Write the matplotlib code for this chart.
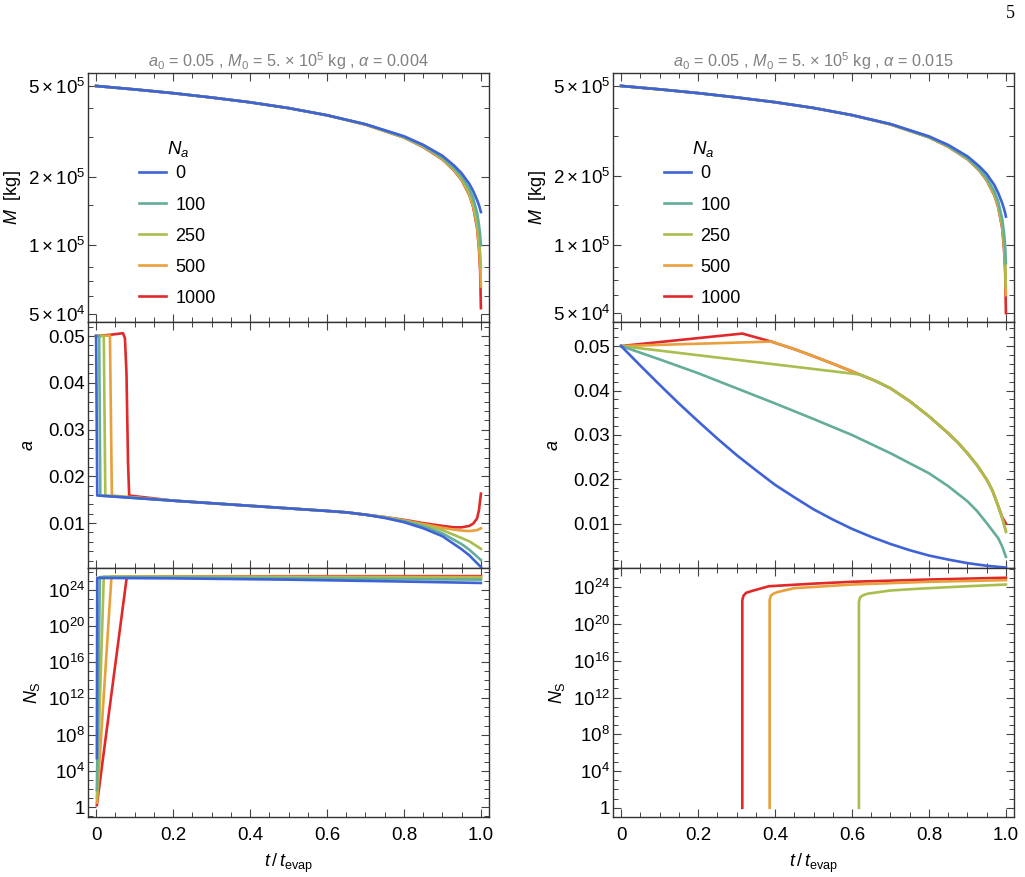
import numpy as np
import matplotlib
matplotlib.use('Agg')
from matplotlib import pyplot as plt
from matplotlib.ticker import FixedLocator, FixedFormatter, NullFormatter

plt.rcParams['font.family'] = ['Liberation Sans', 'DejaVu Sans']
plt.rcParams['mathtext.fontset'] = 'custom'
plt.rcParams['mathtext.rm'] = 'Liberation Sans'
plt.rcParams['mathtext.it'] = 'Liberation Sans:italic'
plt.rcParams['mathtext.bf'] = 'Liberation Sans:bold'

# 数据：N_a 的取值和颜色
labels = ['0', '100', '250', '500', '1000']
colors = ['#3F63D6', '#64AD9A', '#A8BE4E', '#E8A03C', '#E0292A']
titles = [r'$a_0$ = 0.05 , $M_0$ = 5. $\times$ 10$^5$ kg , $\alpha$ = 0.004',
          r'$a_0$ = 0.05 , $M_0$ = 5. $\times$ 10$^5$ kg , $\alpha$ = 0.015']

# >>> M(t) 上面两个图
t_M = [0, 0.1, 0.2, 0.3, 0.4, 0.5, 0.6, 0.7, 0.8, 0.85, 0.9, 0.93, 0.95, 0.97, 0.98, 0.99, 0.995, 0.998, 1.0]
M_left = [
    [5.0e5, 4.83e5, 4.65e5, 4.45e5, 4.24e5, 4.00e5, 3.72e5, 3.40e5, 3.01e5, 2.76e5, 2.47e5, 2.24e5, 2.07e5, 1.86e5, 1.73e5, 1.58e5, 1.50e5, 1.44e5, 1.40e5],
    [5.0e5, 4.83e5, 4.65e5, 4.45e5, 4.24e5, 4.00e5, 3.72e5, 3.395e5, 2.99e5, 2.74e5, 2.43e5, 2.19e5, 2.01e5, 1.77e5, 1.61e5, 1.39e5, 1.23e5, 1.11e5, 1.00e5],
    [5.0e5, 4.83e5, 4.65e5, 4.45e5, 4.24e5, 4.00e5, 3.72e5, 3.39e5, 2.98e5, 2.72e5, 2.40e5, 2.15e5, 1.96e5, 1.70e5, 1.52e5, 1.26e5, 1.06e5, 0.93e5, 0.80e5],
    [5.0e5, 4.83e5, 4.65e5, 4.45e5, 4.24e5, 4.00e5, 3.72e5, 3.385e5, 2.97e5, 2.71e5, 2.39e5, 2.14e5, 1.94e5, 1.67e5, 1.48e5, 1.21e5, 0.99e5, 0.83e5, 0.66e5],
    [5.0e5, 4.83e5, 4.65e5, 4.45e5, 4.24e5, 4.00e5, 3.72e5, 3.385e5, 2.97e5, 2.70e5, 2.38e5, 2.13e5, 1.93e5, 1.66e5, 1.47e5, 1.19e5, 0.96e5, 0.77e5, 0.53e5],
]
M_right = [
    [5.0e5, 4.83e5, 4.65e5, 4.45e5, 4.24e5, 4.00e5, 3.72e5, 3.40e5, 3.00e5, 2.75e5, 2.45e5, 2.22e5, 2.05e5, 1.83e5, 1.69e5, 1.53e5, 1.44e5, 1.38e5, 1.33e5],
    [5.0e5, 4.83e5, 4.65e5, 4.45e5, 4.24e5, 4.00e5, 3.72e5, 3.395e5, 2.98e5, 2.72e5, 2.41e5, 2.16e5, 1.97e5, 1.72e5, 1.55e5, 1.31e5, 1.13e5, 0.99e5, 0.83e5],
    [5.0e5, 4.83e5, 4.65e5, 4.45e5, 4.24e5, 4.00e5, 3.72e5, 3.39e5, 2.97e5, 2.71e5, 2.39e5, 2.14e5, 1.94e5, 1.67e5, 1.49e5, 1.23e5, 1.02e5, 0.85e5, 0.65e5],
    [5.0e5, 4.83e5, 4.65e5, 4.45e5, 4.24e5, 4.00e5, 3.72e5, 3.385e5, 2.97e5, 2.70e5, 2.38e5, 2.13e5, 1.93e5, 1.66e5, 1.47e5, 1.21e5, 0.99e5, 0.81e5, 0.60e5],
    [5.0e5, 4.83e5, 4.65e5, 4.45e5, 4.24e5, 4.00e5, 3.72e5, 3.385e5, 2.97e5, 2.70e5, 2.38e5, 2.13e5, 1.92e5, 1.65e5, 1.46e5, 1.19e5, 0.96e5, 0.76e5, 0.50e5],
]

# >>> a(t) 中间两个图
ta_left = [
    [0, 0.003, 0.2, 0.4, 0.6, 0.65, 0.7, 0.75, 0.8, 0.85, 0.9, 0.95, 0.97, 1.0],
    [0, 0.008, 0.011, 0.2, 0.4, 0.6, 0.65, 0.7, 0.75, 0.8, 0.85, 0.9, 0.95, 0.97, 1.0],
    [0, 0.020, 0.024, 0.2, 0.4, 0.6, 0.65, 0.7, 0.75, 0.8, 0.85, 0.9, 0.95, 0.97, 1.0],
    [0, 0.036, 0.041, 0.2, 0.4, 0.6, 0.65, 0.7, 0.75, 0.8, 0.85, 0.9, 0.93, 0.95, 0.97, 0.99, 1.0],
    [0, 0.04, 0.07, 0.075, 0.079, 0.083, 0.086, 0.2, 0.4, 0.6, 0.65, 0.7, 0.75, 0.8, 0.85, 0.9, 0.93, 0.95, 0.97, 0.98, 0.99, 0.995, 1.0],
]
a_left = [
    [0.050, 0.0159, 0.0148, 0.0137, 0.0126, 0.0123, 0.0118, 0.0111, 0.0102, 0.0089, 0.0072, 0.0044, 0.0031, 0.0006],
    [0.050, 0.0500, 0.0159, 0.0148, 0.0137, 0.0126, 0.0123, 0.0118, 0.0112, 0.0104, 0.0093, 0.0078, 0.0055, 0.0043, 0.0021],
    [0.050, 0.0500, 0.0159, 0.0148, 0.0137, 0.0126, 0.0123, 0.0118, 0.0112, 0.0105, 0.0096, 0.0085, 0.0068, 0.0061, 0.0045],
    [0.050, 0.0501, 0.0159, 0.0148, 0.0137, 0.0126, 0.0123, 0.0118, 0.0113, 0.0106, 0.0098, 0.0090, 0.0086, 0.0084, 0.0083, 0.0085, 0.0089],
    [0.050, 0.0503, 0.0506, 0.0495, 0.0420, 0.0230, 0.0159, 0.0148, 0.0137, 0.0126, 0.0123, 0.0118, 0.0113, 0.0107, 0.0100, 0.0094, 0.0091, 0.0091, 0.0094, 0.0099, 0.0110, 0.0128, 0.0163],
]
ta_right = [
    [0, 0.05, 0.1, 0.15, 0.2, 0.25, 0.3, 0.35, 0.4, 0.45, 0.5, 0.55, 0.6, 0.65, 0.7, 0.75, 0.8, 0.85, 0.9, 0.95, 1.0],
    [0, 0.1, 0.2, 0.3, 0.4, 0.5, 0.6, 0.7, 0.8, 0.85, 0.9, 0.925, 0.95, 0.98, 0.99, 1.0],
    [0, 0.62, 0.66, 0.7, 0.75, 0.8, 0.85, 0.875, 0.9, 0.925, 0.95, 0.965, 0.98, 0.99, 1.0],
    [0, 0.39, 0.45, 0.5, 0.56, 0.62, 0.66, 0.7, 0.75, 0.8, 0.85, 0.875, 0.9, 0.925, 0.95, 0.965, 0.98, 0.99, 1.0],
    [0, 0.315, 0.39, 0.45, 0.5, 0.56, 0.62, 0.66, 0.7, 0.75, 0.8, 0.85, 0.875, 0.9, 0.925, 0.95, 0.965, 0.98, 0.99, 1.0],
]
a_right = [
    [0.050, 0.0456, 0.0413, 0.0371, 0.0331, 0.0292, 0.0255, 0.0221, 0.0188, 0.0160, 0.0133, 0.0110, 0.0089, 0.0071, 0.0055, 0.0041, 0.0029, 0.0020, 0.0012, 0.0006, 0.0002],
    [0.050, 0.0470, 0.0439, 0.0405, 0.0371, 0.0336, 0.0300, 0.0259, 0.0214, 0.0185, 0.0151, 0.0129, 0.0102, 0.0068, 0.0050, 0.0026],
    [0.050, 0.0436, 0.0422, 0.0405, 0.0376, 0.0342, 0.0304, 0.0283, 0.0259, 0.0232, 0.0200, 0.0175, 0.0140, 0.0114, 0.0082],
    [0.050, 0.0510, 0.0493, 0.0477, 0.0457, 0.0436, 0.0422, 0.0405, 0.0376, 0.0342, 0.0304, 0.0283, 0.0259, 0.0232, 0.0200, 0.0175, 0.0140, 0.0114, 0.0085],
    [0.050, 0.0528, 0.0510, 0.0493, 0.0477, 0.0457, 0.0436, 0.0422, 0.0405, 0.0376, 0.0342, 0.0304, 0.0283, 0.0259, 0.0232, 0.0200, 0.0175, 0.0140, 0.0116, 0.0101],
]

# >>> N_S(t) 下面两个图
tN_left = [
    [0.002, 0.003, 0.2, 0.5, 0.8, 1.0],
    [0.002, 0.010, 1.0],
    [0.002, 0.020, 1.0],
    [0.002, 0.040, 1.0],
    [0.002, 0.080, 1.0],
]
N_left = [
    [2.5e5, 2.0e25, 1.8e25, 1.3e25, 8.0e24, 5.6e24],
    [80, 2.5e25, 1.3e25],
    [10, 2.8e25, 2.0e25],
    [3, 3.0e25, 2.5e25],
    [1.6, 3.0e25, 3.2e25],
]
tN_right = [
    [],
    [],
    [0.618, 0.618, 0.621, 0.628, 0.64, 0.7, 0.773, 0.9, 1.0],
    [0.386, 0.386, 0.389, 0.396, 0.406, 0.45, 0.6, 0.8, 1.0],
    [0.315, 0.315, 0.318, 0.325, 0.34, 0.384, 0.5, 0.6, 0.8, 1.0],
]
N_right = [
    [],
    [],
    [1, 2.5e22, 8e22, 1.3e23, 2e23, 4.5e23, 7e23, 1.3e24, 2e24],
    [1, 4e22, 1.2e23, 2e23, 3e23, 8e23, 2e24, 4e24, 6e24],
    [1, 4e22, 1.2e23, 2.5e23, 4e23, 1.3e24, 2.5e24, 4e24, 7e24, 1.1e25],
]

fig = plt.figure(figsize=(10.25, 8.77), dpi=100)
fig.text(1010 / 1025, 1 - 14 / 877, '5', family='Liberation Serif', fontsize=13,
         ha='center', va='center')

lefts = [88 / 1025, 613 / 1025]
w = 401 / 1025
ys = [73, 322, 568, 817]
lw = 1.9
frame_c = '#333333'
fs_tick = 13.5
fs_lab = 13


def style(ax):
    for s in ax.spines.values():
        s.set_color(frame_c)
        s.set_linewidth(1.0)
    ax.tick_params(which='both', direction='in', top=True, right=True,
                   colors='#444444', labelcolor='black', labelsize=fs_tick, pad=2)
    ax.tick_params(which='major', length=6, width=0.8)
    ax.tick_params(which='minor', length=3.5, width=0.7)
    ax.set_xlim(-0.021, 1.021)
    ax.xaxis.set_major_locator(FixedLocator([0, 0.2, 0.4, 0.6, 0.8, 1.0]))
    ax.xaxis.set_minor_locator(FixedLocator(np.arange(0, 1.001, 0.05)))


for c in range(2):
    axs = []
    for r in range(3):
        y0 = 1 - ys[r + 1] / 877
        h = (ys[r + 1] - ys[r]) / 877
        ax = fig.add_axes([lefts[c], y0, w, h])
        style(ax)
        axs.append(ax)
    axM, axa, axN = axs
    Ms = M_left if c == 0 else M_right
    tas = ta_left if c == 0 else ta_right
    As = a_left if c == 0 else a_right
    tNs = tN_left if c == 0 else tN_right
    Ns = N_left if c == 0 else N_right

    lines = []
    for k in range(4, -1, -1):
        ln, = axM.plot(t_M, Ms[k], c=colors[k], lw=lw, zorder=3 + (4 - k) * 0.1)
        lines.append(ln)
        axa.plot(tas[k], As[k], c=colors[k], lw=lw, zorder=3 + (4 - k) * 0.1)
        if len(tNs[k]) > 0:
            axN.plot(tNs[k], Ns[k], c=colors[k], lw=lw, zorder=3 + (4 - k) * 0.1)
    lines = lines[::-1]

    # M 图
    axM.set_yscale('log')
    if c == 0:
        axM.set_ylim(4.61e4, 5.7e5)
    else:
        axM.set_ylim(4.57e4, 5.7e5)
    axM.yaxis.set_major_locator(FixedLocator([5e4, 1e5, 2e5, 5e5]))
    axM.yaxis.set_major_formatter(FixedFormatter(
        [r'$5\times10^{4}$', r'$1\times10^{5}$', r'$2\times10^{5}$', r'$5\times10^{5}$']))
    axM.yaxis.set_minor_locator(FixedLocator([6e4, 7e4, 8e4, 1.5e5, 3e5, 4e5]))
    axM.yaxis.set_minor_formatter(NullFormatter())
    axM.set_xticklabels([])
    axM.set_ylabel(r'$M$  [kg]', fontsize=fs_lab)
    axM.yaxis.set_label_coords(-0.162, 0.5)
    axM.set_title(titles[c], color='#808080', fontsize=11.7, pad=4)
    axM.legend(lines, labels, loc='upper left', bbox_to_anchor=(0.105, 0.665),
               borderpad=0, frameon=False, fontsize=13,
               handlelength=1.5, handletextpad=0.5, labelspacing=0.78)
    axM.text(0.225, 0.695, r'$N_a$', transform=axM.transAxes, fontsize=13.5,
             ha='center', va='center')

    # a 图
    if c == 0:
        axa.set_ylim(0.0004, 0.0530)
    else:
        axa.set_ylim(0.0001, 0.0554)
    axa.yaxis.set_major_locator(FixedLocator([0.01, 0.02, 0.03, 0.04, 0.05]))
    axa.yaxis.set_major_formatter(FixedFormatter(['0.01', '0.02', '0.03', '0.04', '0.05']))
    axa.yaxis.set_minor_locator(FixedLocator(np.arange(0.002, 0.0555, 0.002)))
    axa.set_xticklabels([])
    axa.set_ylabel(r'$a$', fontsize=fs_lab)
    axa.yaxis.set_label_coords(-0.126, 0.5)

    # N_S 图
    axN.set_yscale('log')
    if c == 0:
        axN.set_ylim(10 ** -1.1, 10 ** 26.4)
    else:
        axN.set_ylim(10 ** -1.0, 10 ** 26.1)
    majors = [10.0 ** p for p in range(0, 25, 4)]
    axN.yaxis.set_major_locator(FixedLocator(majors))
    axN.yaxis.set_major_formatter(FixedFormatter(
        ['1'] + [r'$10^{%d}$' % p for p in range(4, 25, 4)]))
    axN.yaxis.set_minor_locator(FixedLocator([10.0 ** p for p in range(-1, 27) if p % 4 != 0]))
    axN.yaxis.set_minor_formatter(NullFormatter())
    axN.set_xticklabels(['0', '0.2', '0.4', '0.6', '0.8', '1.0'])
    axN.tick_params(axis='x', pad=7)
    axN.set_ylabel(r'$N_{\mathrm{S}}$', fontsize=fs_lab)
    axN.yaxis.set_label_coords(-0.115, 0.5)
    axN.set_xlabel(r'$t\,/\,t_{\mathrm{evap}}$', fontsize=fs_lab, labelpad=6)

plt.savefig('out.png', dpi=100)
